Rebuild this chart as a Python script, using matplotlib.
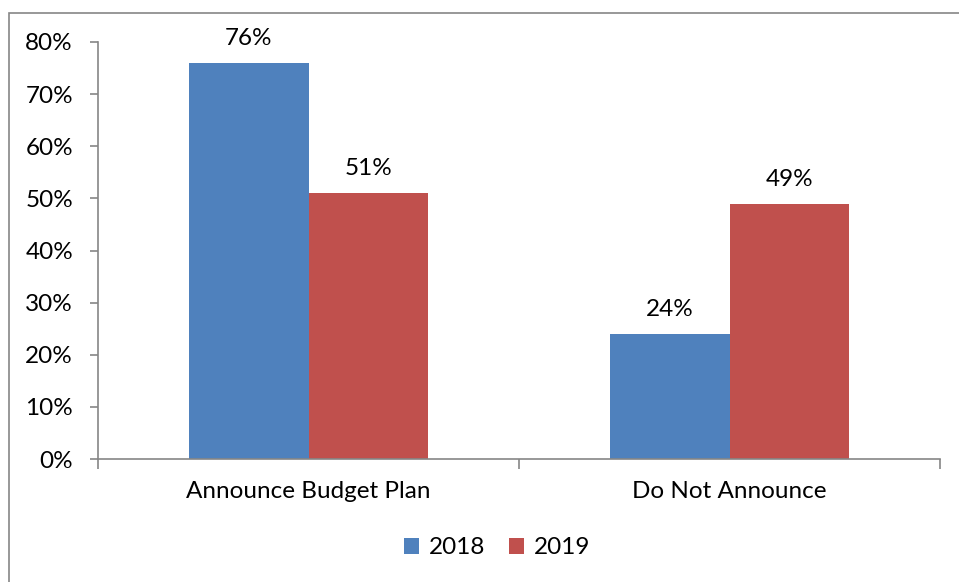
import matplotlib.pyplot as plt
from matplotlib.patches import Rectangle
import numpy as np

plt.rcParams['font.family'] = ['Lato', 'DejaVu Sans']

categories = ['Announce Budget Plan', 'Do Not Announce']
years = ['2018', '2019']
share_2018 = [76, 24]
share_2019 = [51, 49]
y_ticks = [0, 10, 20, 30, 40, 50, 60, 70, 80]

blue = '#4F81BD'
red = '#C0504D'
axis_gray = '#868686'
fs = 17.5

W, H = 959, 582
fig = plt.figure(figsize=(W / 100, H / 100), dpi=100)

# outer chart frame (only its left and top edges fall inside the image)
fig.patches.append(Rectangle((9 / W, -0.1), 1.2, (H - 13) / H + 0.1,
                             transform=fig.transFigure, fill=False,
                             edgecolor=axis_gray, linewidth=1.2))

ax = fig.add_axes([98 / W, (H - 459) / H, (940 - 98) / W, (459 - 42) / H])

x = np.arange(len(categories))
width = 0.285
b1 = ax.bar(x - width / 2, share_2018, width, color=blue, label=years[0])
b2 = ax.bar(x + width / 2, share_2019, width, color=red, label=years[1])

for bars, vals in ((b1, share_2018), (b2, share_2019)):
    for bar, v in zip(bars, vals):
        ax.annotate('%d%%' % v, (bar.get_x() + bar.get_width() / 2, v),
                    xytext=(0, 10), textcoords='offset points',
                    ha='center', va='bottom', fontsize=fs)

ax.set_xlim(-0.5, 1.5)
ax.set_ylim(0, 80)
ax.set_yticks(y_ticks)
ax.set_yticklabels(['%d%%' % t for t in y_ticks])
ax.set_xticks(x)
ax.set_xticklabels(categories)
ax.set_xticks([-0.5, 0.5, 1.5], minor=True)

for side in ('top', 'right'):
    ax.spines[side].set_visible(False)
for side in ('left', 'bottom'):
    ax.spines[side].set_color(axis_gray)
    ax.spines[side].set_linewidth(1.2)

ax.tick_params(axis='y', direction='out', length=6, width=1.2, color=axis_gray,
               labelsize=fs, pad=12)
ax.tick_params(axis='x', which='major', length=0, labelsize=fs, pad=16)
ax.tick_params(axis='x', which='minor', direction='out', length=7, width=1.2,
               color=axis_gray)

leg = fig.legend(loc='center', bbox_to_anchor=(497 / W, (H - 548) / H),
                 ncol=2, frameon=False, fontsize=fs, handlelength=0.6,
                 handleheight=0.6, handletextpad=0.4, columnspacing=1.0)

fig.savefig('out.png', dpi=100)
